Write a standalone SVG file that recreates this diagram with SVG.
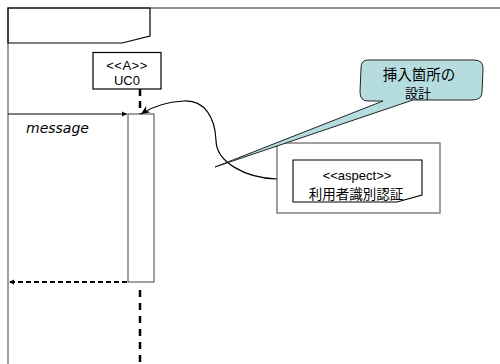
<svg xmlns="http://www.w3.org/2000/svg" width="500" height="364" viewBox="0 0 500 364">
<style>
.t{font-family:"Liberation Sans",Arial,sans-serif;font-size:13px;fill:#000;text-anchor:middle}
.j{font-family:"Noto Sans CJK JP",sans-serif;fill:#000;text-anchor:middle}
.g{fill:none;stroke:#6e6e6e;stroke-width:1.3}
.k{fill:none;stroke:#000;stroke-width:1.2}
</style>
<defs>
<marker id="ah" markerWidth="6" markerHeight="6" refX="5" refY="3" orient="auto" markerUnits="userSpaceOnUse">
<path d="M0,0.5 L5,3 L0,5.5 Z" fill="#000"/>
</marker>
<marker id="ah2" markerWidth="10" markerHeight="10" refX="9" refY="5" orient="auto" markerUnits="userSpaceOnUse">
<path d="M0,1 L9,5 L0,9 L3,5 Z" fill="#000"/>
</marker>
</defs>
<g id="frame">
<path class="g" d="M8,364 L8,8 L500,8"/>
<path class="k" d="M8,8 L150,8 L150,36 L122,43 L8,43 Z" fill="#fff"/>
</g>
<g id="lifeline">
<rect x="93" y="52.5" width="68" height="36.5" fill="#fff" stroke="#000" stroke-width="1.2"/>
<text class="t" x="127" y="69.5" letter-spacing="0.5">&lt;&lt;A&gt;&gt;</text>
<text class="t" x="127" y="85">UC0</text>
<line x1="140" y1="89" x2="140" y2="114" stroke="#000" stroke-width="2.5" stroke-dasharray="7,5"/>
<line x1="140" y1="290" x2="140" y2="364" stroke="#000" stroke-width="2.5" stroke-dasharray="7,6"/>
<rect id="activation" x="128" y="114" width="26" height="168" fill="#fff" stroke="#6e6e6e" stroke-width="1.3"/>
</g>
<g id="aspect">
<rect x="277" y="143" width="163" height="70" fill="#fff" stroke="#6e6e6e" stroke-width="1.3"/>
<path d="M293,160 L422,160 L422,195 L397,202 L293,202 Z" fill="#fff" stroke="#000" stroke-width="1.1"/>
<text class="t" x="357" y="180">&lt;&lt;aspect&gt;&gt;</text>
<text class="j" x="356" y="199" font-size="13.5">利用者識別認証</text>
</g>
<g id="connectors">
<line x1="8" y1="114" x2="127" y2="114" stroke="#000" stroke-width="1" marker-end="url(#ah)"/>
<line x1="127" y1="282" x2="9" y2="282" stroke="#000" stroke-width="1.8" stroke-dasharray="5,3" marker-end="url(#ah)"/>
<path class="k" d="M277,179 C245,178 216,162 216,140 C215,118 205,100 184,101 C165,102 150,108 141,114" marker-end="url(#ah2)"/>
</g>
<g id="callout">
<path d="M368,60 L474,60 Q484,60 483,70 L482,92 Q482,100 472,100 L413,100 L215,167 L383,101 L368,101 Q360,101 360,92 L361,68 Q361,60 368,60 Z" fill="#b5dde0" stroke="#222" stroke-width="1"/>
<text class="j" x="419" y="80" font-size="14.5">挿入箇所の</text>
<text class="j" x="418" y="98" font-size="13">設計</text>
</g>
<text x="26" y="133" font-family="DejaVu Sans,sans-serif" font-style="italic" font-size="14" fill="#000">message</text>
</svg>
